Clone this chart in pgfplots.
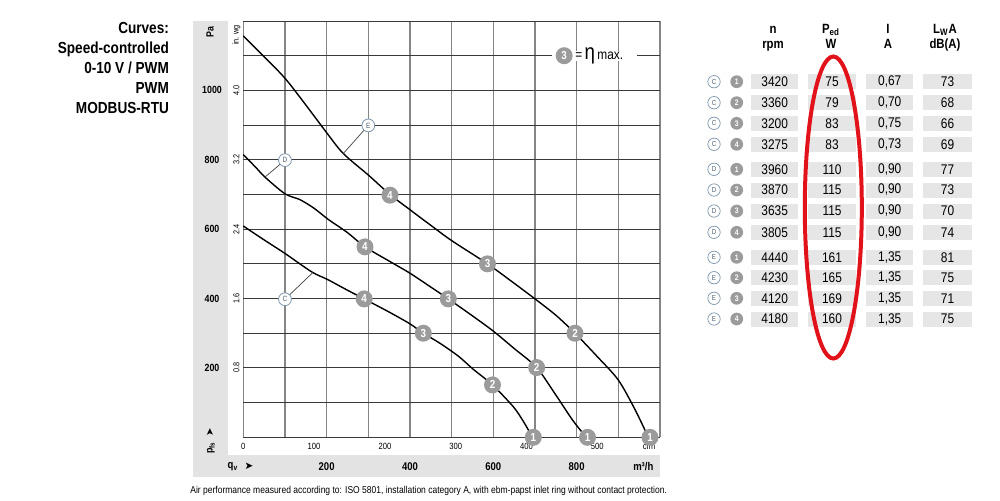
\documentclass[border=0pt]{standalone}
\usepackage{pgfplots}
\pgfplotsset{compat=1.18}
\usepackage{fontspec}
\setmainfont{Liberation Sans}[FakeStretch=0.85]
\newfontfamily\dejavu{DejaVu Sans}
\newcommand\fs[1]{\fontsize{#1}{#1}\selectfont}
\definecolor{bandgray}{HTML}{E3E3E3}
\definecolor{gridv}{HTML}{858585}
\definecolor{gridh}{HTML}{3A3A3A}
\definecolor{bubgray}{HTML}{9B9B9B}
\definecolor{boxgray}{HTML}{E6E6E6}
\definecolor{circblue}{HTML}{7E94AA}
\definecolor{circtext}{HTML}{4F6072}
\definecolor{ellred}{HTML}{E2121B}

\newcommand\trow[7]{%
  \node[circle, draw=circblue, line width=0.35pt, inner sep=0pt, minimum size=6.2pt, text=circtext, font=\fs{3.6}] at (714,#1) {#2};
  \node[circle, fill=bubgray, inner sep=0pt, minimum size=6.4pt, text=white, font=\bfseries\fs{4}] at (736.7,#1) {#3};
  \fill[boxgray] (751,#1-7.5) rectangle (798.3,#1+7.5);
  \fill[boxgray] (808.3,#1-7.5) rectangle (855.7,#1+7.5);
  \fill[boxgray] (866,#1-7.5) rectangle (913.3,#1+7.5);
  \fill[boxgray] (923.3,#1-7.5) rectangle (971.7,#1+7.5);
  \node[font=\fs{7}] at (774.7,#1) {#4};
  \node[font=\fs{7}] at (832,#1) {#5};
  \node[font=\fs{7}] at (889.7,#1) {#6};
  \node[font=\fs{7}] at (947.5,#1) {#7};
}

\begin{document}
\begin{tikzpicture}
\useasboundingbox (0,0) rectangle (500pt,250pt);
\begin{scope}[yshift=250pt, x=0.5pt, y=-0.5pt]
  % grey bands
  \fill[bandgray] (192.5,21) rectangle (227.8,477.3);
  \fill[bandgray] (192.5,455) rectangle (660,477.3);
  % left title block
  \node[anchor=base east, font=\bfseries\fs{8}, inner sep=0pt] at (169.3,33.3) {Curves:};
  \node[anchor=base east, font=\bfseries\fs{8}, inner sep=0pt] at (169.3,53.3) {Speed-controlled};
  \node[anchor=base east, font=\bfseries\fs{8}, inner sep=0pt] at (169.3,73.3) {0-10 V / PWM};
  \node[anchor=base east, font=\bfseries\fs{8}, inner sep=0pt] at (169.3,93.3) {PWM};
  \node[anchor=base east, font=\bfseries\fs{8}, inner sep=0pt] at (169.3,113.3) {MODBUS-RTU};
  % Pa axis
  \node[rotate=90, font=\bfseries\fs{5.2}, inner sep=0pt] at (210,31.7) {Pa};
  \node[font=\bfseries\fs{5.2}, inner sep=0pt] at (212,90.4) {1000};
  \node[font=\bfseries\fs{5.2}, inner sep=0pt] at (212,159.8) {800};
  \node[font=\bfseries\fs{5.2}, inner sep=0pt] at (212,229.1) {600};
  \node[font=\bfseries\fs{5.2}, inner sep=0pt] at (212,298.5) {400};
  \node[font=\bfseries\fs{5.2}, inner sep=0pt] at (212,367.9) {200};
  % in. wg axis
  \node[rotate=90, font=\fs{4.3}, inner sep=0pt] at (236.3,35) {in. wg};
  \node[rotate=90, font=\fs{4.3}, inner sep=0pt] at (236.3,90.4) {4.0};
  \node[rotate=90, font=\fs{4.3}, inner sep=0pt] at (236.3,159.8) {3.2};
  \node[rotate=90, font=\fs{4.3}, inner sep=0pt] at (236.3,229.1) {2.4};
  \node[rotate=90, font=\fs{4.3}, inner sep=0pt] at (236.3,298.5) {1.6};
  \node[rotate=90, font=\fs{4.3}, inner sep=0pt] at (236.3,367.9) {0.8};
  % p_fs label
  \node[rotate=90, font=\bfseries\fs{5.2}, inner sep=0pt] at (211,447.5) {p\textsubscript{fs}};
  \node[rotate=90, font=\dejavu\fs{5}, inner sep=0pt] at (210,432) {➤};
  % cfm labels
  \node[font=\fs{4.5}, inner sep=0pt] at (243.3,446) {0};
  \node[font=\fs{4.5}, inner sep=0pt] at (314.1,446) {100};
  \node[font=\fs{4.5}, inner sep=0pt] at (384.9,446) {200};
  \node[font=\fs{4.5}, inner sep=0pt] at (455.7,446) {300};
  \node[font=\fs{4.5}, inner sep=0pt] at (526.5,446) {400};
  \node[font=\fs{4.5}, inner sep=0pt] at (597.3,446) {500};
  \node[font=\fs{4.5}, inner sep=0pt] at (649,446) {cfm};
  % m3/h labels
  \node[font=\bfseries\fs{5.6}, inner sep=0pt] at (233,466.5) {q\textsubscript{v}};
  \node[font=\dejavu\fs{5.2}, inner sep=0pt] at (249,466.5) {➤};
  \node[font=\bfseries\fs{5.6}, inner sep=0pt] at (326.6,466.5) {200};
  \node[font=\bfseries\fs{5.6}, inner sep=0pt] at (410,466.5) {400};
  \node[font=\bfseries\fs{5.6}, inner sep=0pt] at (493.3,466.5) {600};
  \node[font=\bfseries\fs{5.6}, inner sep=0pt] at (576.6,466.5) {800};
  \node[font=\bfseries\fs{5.6}, inner sep=0pt] at (643.3,466.5) {m³/h};
  % footnote
  \node[anchor=west, font=\fs{5.0}, inner sep=0pt] at (190,491) {Air performance measured according to: ISO 5801, installation category A, with ebm-papst inlet ring without contact protection.};
  % table header
  \node[anchor=base, font=\bfseries\fs{6.7}, inner sep=0pt] at (773,33.5) {n};
  \node[anchor=base, font=\bfseries\fs{6.7}, inner sep=0pt] at (773,48.5) {rpm};
  \node[anchor=base, font=\bfseries\fs{6.7}, inner sep=0pt] at (831,33.5) {P\textsubscript{ed}};
  \node[anchor=base, font=\bfseries\fs{6.7}, inner sep=0pt] at (831,48.5) {W};
  \node[anchor=base, font=\bfseries\fs{6.7}, inner sep=0pt] at (888,33.5) {I};
  \node[anchor=base, font=\bfseries\fs{6.7}, inner sep=0pt] at (888,48.5) {A};
  \node[anchor=base, font=\bfseries\fs{6.7}, inner sep=0pt] at (945,33.5) {L\textsubscript{W}A};
  \node[anchor=base, font=\bfseries\fs{6.7}, inner sep=0pt] at (945,48.5) {dB(A)};
  % table rows
  \trow{81.7}{C}{1}{3420}{75}{0,67}{73}
  \trow{102.7}{C}{2}{3360}{79}{0,70}{68}
  \trow{123.3}{C}{3}{3200}{83}{0,75}{66}
  \trow{144.3}{C}{4}{3275}{83}{0,73}{69}
  \trow{169.3}{D}{1}{3960}{110}{0,90}{77}
  \trow{190}{D}{2}{3870}{115}{0,90}{73}
  \trow{211}{D}{3}{3635}{115}{0,90}{70}
  \trow{232.3}{D}{4}{3805}{115}{0,90}{74}
  \trow{257.3}{E}{1}{4440}{161}{1,35}{81}
  \trow{277.7}{E}{2}{4230}{165}{1,35}{75}
  \trow{298.3}{E}{3}{4120}{169}{1,35}{71}
  \trow{319}{E}{4}{4180}{160}{1,35}{75}
  % red ellipse
  \draw[ellred, line width=2pt] (833.3,207.5) ellipse [x radius=28.5, y radius=151];
\end{scope}

\begin{axis}[
  at={(121.65pt,31.35pt)}, anchor=south west,
  scale only axis, width=208.35pt, height=208.15pt,
  xmin=0, xmax=1000, ymin=0, ymax=1200,
  xtick={0,100,...,1000}, ytick={0,100,...,1200},
  xticklabels={}, yticklabels={},
  major tick length=0pt,
  grid=major,
  x grid style={draw=gridv, line width=0.75pt},
  y grid style={draw=gridh, line width=0.5pt},
  axis line style={draw=none},
  clip=false,
  text mark as node=true,
]
% curve E
\addplot[black, line width=0.7pt, smooth, tension=0.5] coordinates {
 (0,1157) (50,1097) (100,1035) (150,958) (200,878) (240,818) (300,756) (352,700)
 (400,656) (450,611) (500,567) (586,500) (650,444) (700,399) (750,352) (796,300)
 (850,232) (900,165) (940,80) (972,0)};
% curve D
\addplot[black, line width=0.7pt, smooth, tension=0.5] coordinates {
 (0,815) (30,778) (52,750) (100,702) (136,685) (170,660) (204,628) (250,590)
 (292,549) (350,508) (400,473) (450,433) (492,399) (550,350) (600,306) (650,256)
 (704,201) (750,122) (790,50) (823,0)};
% curve C
\addplot[black, line width=0.7pt, smooth, tension=0.5] coordinates {
 (0,609) (50,569) (100,530) (164,477) (202,455) (250,424) (290,399) (350,361)
 (400,327) (432,300) (472,271) (516,234) (552,196) (598,151) (648,88) (672,46) (694,0)};
% curve labels
\draw[black!75, line width=0.35pt] (axis cs:240,818) -- (axis cs:300,899);
\draw[black!75, line width=0.35pt] (axis cs:52,750) -- (axis cs:100,799);
\draw[black!75, line width=0.35pt] (axis cs:167,475) -- (axis cs:100,398);
\node[circle, draw=circblue, fill=white, line width=0.4pt, inner sep=0pt, minimum size=6.4pt, text=circtext, font=\fs{3.8}] at (axis cs:300,899) {E};
\node[circle, draw=circblue, fill=white, line width=0.4pt, inner sep=0pt, minimum size=6.4pt, text=circtext, font=\fs{3.8}] at (axis cs:100,799) {D};
\node[circle, draw=circblue, fill=white, line width=0.4pt, inner sep=0pt, minimum size=6.4pt, text=circtext, font=\fs{3.8}] at (axis cs:100,398) {C};
% legend box
\fill[white] (axis cs:740,1086) rectangle (axis cs:944,1114);
\node[anchor=west, inner sep=0pt] at (axis cs:796,1100) {\fs{7}=\,{\fs{11}η}\,\fs{7}max.};
% operating point bubbles
\addplot[only marks, mark=text, text mark={1}, text mark style={circle, fill=bubgray, text=white, inner sep=0pt, minimum size=8.5pt, font=\bfseries\fs{5.8}}] coordinates {(976,0) (826,0) (696,0)};
\addplot[only marks, mark=text, text mark={2}, text mark style={circle, fill=bubgray, text=white, inner sep=0pt, minimum size=8.5pt, font=\bfseries\fs{5.8}}] coordinates {(796,300) (704,201) (598,151)};
\addplot[only marks, mark=text, text mark={3}, text mark style={circle, fill=bubgray, text=white, inner sep=0pt, minimum size=8.5pt, font=\bfseries\fs{5.8}}] coordinates {(586,500) (492,399) (432,300) (770,1100)};
\addplot[only marks, mark=text, text mark={4}, text mark style={circle, fill=bubgray, text=white, inner sep=0pt, minimum size=8.5pt, font=\bfseries\fs{5.8}}] coordinates {(352,698) (292,549) (290,399)};
\end{axis}
\end{tikzpicture}
\end{document}
